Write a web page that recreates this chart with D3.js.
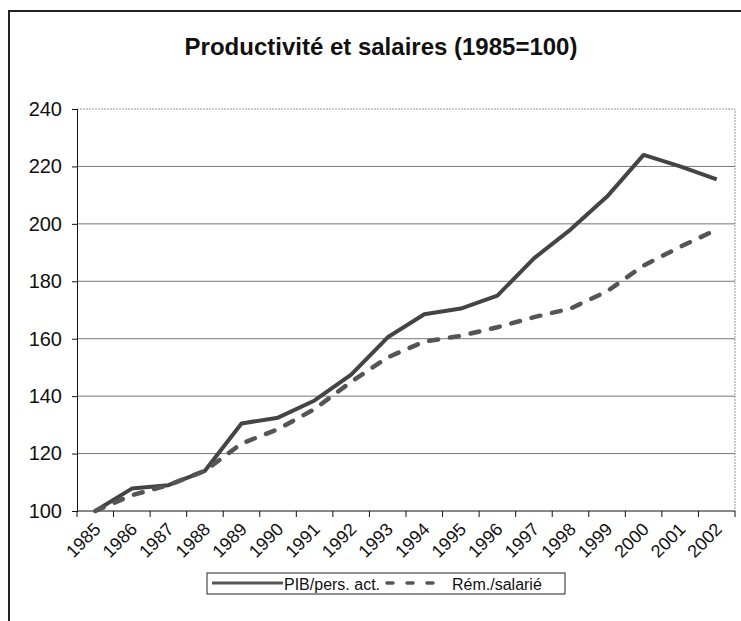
<!DOCTYPE html>
<html lang="fr">
<head>
<meta charset="UTF-8">
<script src="https://d3js.org/d3.v7.min.js"></script>
<style>
    body { margin: 0; background: #fff; }
    text { font-family: Arial, "Liberation Sans", sans-serif; fill: #111; }
</style>
<title>Productivité et salaires</title>
</head>
<body>
<svg id="chart" width="741" height="621"></svg>
<script>
    // données
    var years = [1985, 1986, 1987, 1988, 1989, 1990, 1991, 1992, 1993,
                 1994, 1995, 1996, 1997, 1998, 1999, 2000, 2001, 2002];
    var pib = [100, 107.8, 109, 114, 130.5, 132.5, 138.5, 147.5, 160.5,
               168.5, 170.5, 175, 188, 198, 209.5, 224, 220, 215.5];
    var rem = [100, 105.5, 109, 114, 123.5, 128.5, 135.5, 145, 153.5,
               159, 161, 164, 167.5, 170.5, 176.5, 185.5, 192, 198];
    var yTicks = [100, 120, 140, 160, 180, 200, 220, 240];
    var seriesNames = ["PIB/pers. act.", "Rém./salarié"];

    var svg = d3.select("#chart");
    var plot = {left: 77, right: 735, top: 109, bottom: 511};

    // cadre extérieur
    svg.append("rect")
        .attr("x", 9).attr("y", 11)
        .attr("width", 800).attr("height", 700)
        .attr("fill", "none").attr("stroke", "#222").attr("stroke-width", 2);

    svg.append("text")
        .attr("x", 381).attr("y", 55)
        .attr("text-anchor", "middle")
        .style("font-size", "24px").style("font-weight", "bold")
        .text("Productivité et salaires (1985=100)");

    var x = d3.scaleBand().domain(years).range([plot.left, plot.right]);
    var y = d3.scaleLinear().domain([100, 240]).range([plot.bottom, plot.top]);

    // bord de la zone de tracé
    svg.append("path")
        .attr("d", "M" + plot.left + "," + plot.top + "H" + plot.right + "V" + plot.bottom)
        .attr("fill", "none").attr("stroke", "#999").attr("stroke-width", 1)
        .attr("stroke-dasharray", "2,1");

    // quadrillage
    svg.append("g").selectAll("line")
        .data(yTicks.slice(1, -1))
        .enter().append("line")
        .attr("x1", plot.left).attr("x2", plot.right)
        .attr("y1", function (d) { return y(d); })
        .attr("y2", function (d) { return y(d); })
        .attr("stroke", "#777").attr("stroke-width", 1);

    // axe Y
    var yAxis = svg.append("g")
        .attr("transform", "translate(" + plot.left + ",0)")
        .call(d3.axisLeft(y).tickValues(yTicks).tickSize(5).tickPadding(10));
    yAxis.selectAll("text").style("font-size", "20px").attr("fill", "#111");
    yAxis.selectAll("line,path").attr("stroke", "#111");

    // axe X : graduations entre les catégories
    var xg = svg.append("g");
    xg.append("line")
        .attr("x1", plot.left).attr("x2", plot.right)
        .attr("y1", plot.bottom).attr("y2", plot.bottom)
        .attr("stroke", "#111");
    xg.selectAll(".tk")
        .data(years.concat([null]))
        .enter().append("line")
        .attr("x1", function (d) { return d === null ? plot.right : x(d); })
        .attr("x2", function (d) { return d === null ? plot.right : x(d); })
        .attr("y1", plot.bottom).attr("y2", plot.bottom + 6)
        .attr("stroke", "#111");
    xg.selectAll("text")
        .data(years)
        .enter().append("text")
        .attr("transform", function (d) {
            return "translate(" + (x(d) + x.bandwidth() / 2 + 2) + "," + (plot.bottom + 15) + ") rotate(-45)";
        })
        .attr("text-anchor", "end")
        .attr("dy", "0.35em")
        .style("font-size", "18px")
        .text(function (d) { return d; });

    var line = d3.line()
        .x(function (d, i) { return x(years[i]) + x.bandwidth() / 2; })
        .y(function (d) { return y(d); });

    svg.append("path")
        .datum(pib)
        .attr("d", line)
        .attr("fill", "none").attr("stroke", "#444").attr("stroke-width", 4)
        .attr("stroke-linejoin", "round");

    svg.append("path")
        .datum(rem)
        .attr("d", line)
        .attr("fill", "none").attr("stroke", "#555").attr("stroke-width", 4.5)
        .attr("stroke-dasharray", "9,12").attr("stroke-linecap", "round");

    // légende
    var lg = svg.append("g");
    lg.append("rect")
        .attr("x", 207).attr("y", 573).attr("width", 358).attr("height", 21)
        .attr("fill", "#fff").attr("stroke", "#222").attr("stroke-width", 1);
    lg.append("line")
        .attr("x1", 212).attr("x2", 283).attr("y1", 583).attr("y2", 583)
        .attr("stroke", "#555").attr("stroke-width", 3);
    lg.append("line")
        .attr("x1", 387).attr("x2", 440).attr("y1", 583).attr("y2", 583)
        .attr("stroke", "#555").attr("stroke-width", 3.5)
        .attr("stroke-dasharray", "6,14").attr("stroke-linecap", "round");
    lg.append("text").attr("x", 284).attr("y", 590)
        .style("font-size", "16px").text(seriesNames[0]);
    lg.append("text").attr("x", 452).attr("y", 590)
        .style("font-size", "16px").text(seriesNames[1]);
</script>
</body>
</html>
